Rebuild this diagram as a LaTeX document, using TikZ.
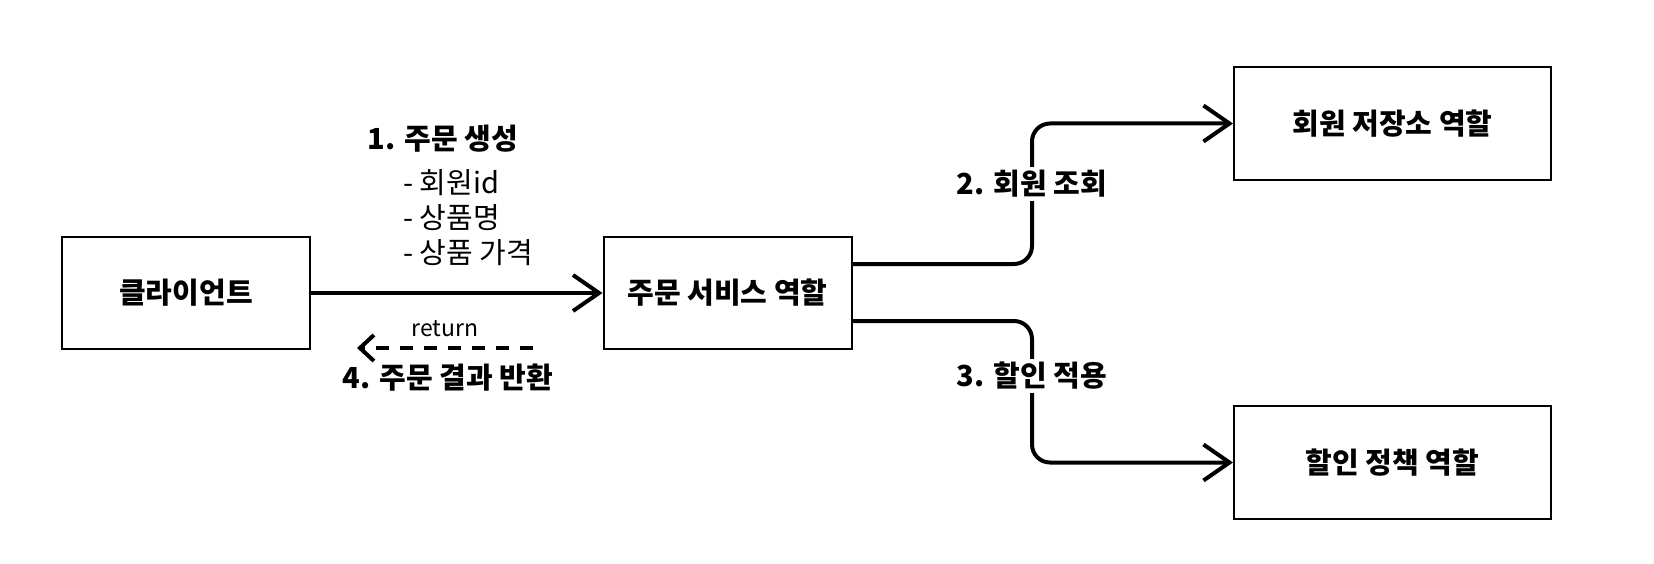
\documentclass[tikz,border=0pt]{standalone}
\usepackage{fontspec}
\setmainfont{Noto Sans CJK KR}
\usetikzlibrary{arrows.meta,calc}
\tikzset{
  box/.style={draw, line width=2pt, minimum width=248pt, minimum height=112pt, inner sep=0pt,
    font=\fontsize{29pt}{34pt}\selectfont\bfseries},
  bigbox/.style={box, minimum width=317pt, minimum height=113pt},
  conn/.style={line width=4pt, -{Straight Barb[length=26pt,width=36pt,line width=4pt]}},
  retconn/.style={line width=4pt, dash pattern=on 13pt off 11pt, -{Straight Barb[length=14pt,width=26pt,line width=4pt]}},
  title/.style={font=\fontsize{29pt}{34pt}\selectfont\bfseries, inner sep=0pt},
  lbl/.style={font=\fontsize{29pt}{34pt}\selectfont\bfseries, fill=white, inner sep=3pt},
  list/.style={font=\fontsize{29pt}{35pt}\selectfont, align=left, inner sep=0pt},
  small/.style={font=\fontsize{23pt}{28pt}\selectfont, inner sep=0pt}
}
\begin{document}
\begin{tikzpicture}[x=1pt,y=-1pt]
\useasboundingbox (0,0) rectangle (1654,564);
\node[box] (client) at (186,293) {클라이언트};
\node[box] (order) at (727.5,293) {주문 서비스 역할};
\node[bigbox] (member) at (1392.5,123.5) {회원 저장소 역할};
\node[bigbox] (discount) at (1392.5,462.5) {할인 정책 역할};
\coordinate (mid) at (1032,293);
\coordinate (retS) at (533,348);
\coordinate (retE) at (357,348);
\draw[conn] (client) -- (order);
\draw[retconn] (retS) -- (retE);
\draw[conn, rounded corners=18pt] ([yshift=29pt]order.east) -| (mid |- member.west) -- (member.west);
\draw[conn, rounded corners=18pt] ([yshift=-28pt]order.east) -| (mid |- discount.west) -- (discount.west);
\node[lbl] (l2) at (1032,184) {2. 회원 조회};
\node[lbl] (l3) at (1032,376) {3. 할인 적용};
\node[title] (l1) at (443,139) {1. 주문 생성};
\node[list, anchor=north west] (items) at (403,169) {- 회원id\\- 상품명\\- 상품 가격};
\node[small] (ret) at (445,329) {return};
\node[title] (l4) at (448,378) {4. 주문 결과 반환};
\end{tikzpicture}
\end{document}
